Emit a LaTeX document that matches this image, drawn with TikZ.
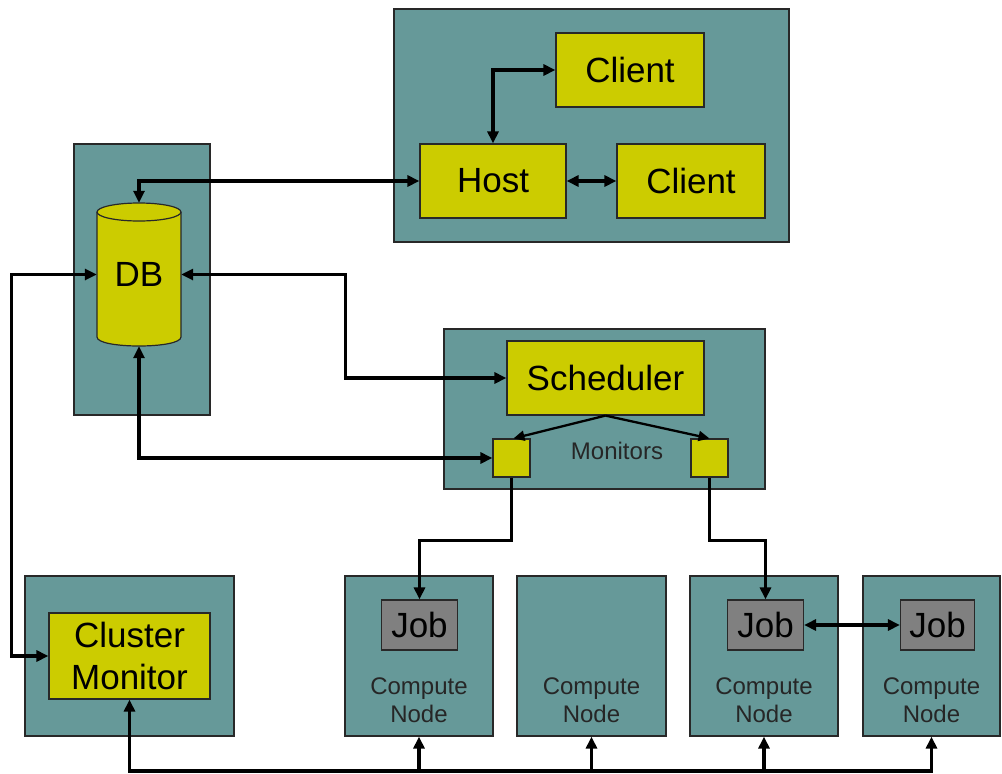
\documentclass[tikz,border=0pt]{standalone}
\usepackage{fontspec}
\setmainfont{Liberation Sans}
\usetikzlibrary{arrows.meta,calc}
\definecolor{panelc}{RGB}{102,153,153}
\definecolor{yelc}{RGB}{204,204,0}
\definecolor{jobc}{RGB}{128,128,128}
\definecolor{edgec}{RGB}{40,40,40}
\begin{document}
\begin{tikzpicture}[x=1pt,y=-1pt,
  panel/.style={draw=edgec,line width=1.2pt,fill=panelc,inner sep=0pt},
  ybox/.style={draw=edgec,line width=1.2pt,fill=yelc,inner sep=0pt,font=\fontsize{35}{42}\selectfont,align=center},
  jobbox/.style={draw=edgec,line width=1.2pt,fill=jobc,inner sep=0pt,minimum width=76pt,minimum height=50pt,font=\fontsize{35}{42}\selectfont},
  mon/.style={draw=edgec,line width=1.2pt,fill=yelc,inner sep=0pt,minimum width=37pt,minimum height=38pt},
  small/.style={font=\fontsize{24}{28.5}\selectfont,align=center,text=black!85},
  conn/.style={line width=3.3pt,black,>={Triangle[length=12pt,width=11pt]}},
  thinconn/.style={line width=2.3pt,black,>={Triangle[length=11pt,width=10pt]}}
]
\useasboundingbox (0,0) rectangle (1002,774);
% panels
\node[panel,minimum width=395pt,minimum height=233pt] (hostp) at (591.5,125.5) {};
\node[panel,minimum width=136pt,minimum height=271pt] (dbp) at (142,279.5) {};
\node[panel,minimum width=321pt,minimum height=160pt] (schedp) at (604.5,409) {};
\node[panel,minimum width=209pt,minimum height=160pt] (cmp) at (129.5,656) {};
\node[panel,minimum width=148pt,minimum height=160pt] (cn1) at (419,656) {};
\node[panel,minimum width=149pt,minimum height=160pt] (cn2) at (591.5,656) {};
\node[panel,minimum width=148pt,minimum height=160pt] (cn3) at (764,656) {};
\node[panel,minimum width=137pt,minimum height=160pt] (cn4) at (931.5,656) {};
% host area
\node[ybox,minimum width=148pt,minimum height=74pt] (c1) at (630,70) {Client};
\node[ybox,minimum width=146pt,minimum height=74pt] (host) at (493,181) {Host};
\node[ybox,minimum width=148pt,minimum height=74pt] (c2) at (691,181) {Client};
% DB cylinder
\fill[yelc] (97,212) rectangle (181,337);
\fill[yelc] (139,337) ellipse [x radius=42pt,y radius=9pt];
\draw[edgec,line width=1.2pt,fill=yelc] (139,212) ellipse [x radius=42pt,y radius=9pt];
\draw[edgec,line width=1.2pt] (97,212) -- (97,337) .. controls (97,349) and (181,349) .. (181,337) -- (181,212);
\node[font=\fontsize{35}{42}\selectfont,minimum width=84pt,minimum height=143pt,inner sep=0pt] (db) at (139,274.5) {DB};
% scheduler
\node[ybox,minimum width=197pt,minimum height=74pt] (sched) at (605.5,378) {Scheduler};
\node[mon] (m1) at (511.5,458) {};
\node[mon] (m2) at (709.5,458) {};
\node[small] (montext) at (617,451) {Monitors};
% cluster monitor
\node[ybox,minimum width=161pt,minimum height=86pt] (cm) at (129.5,656) {Cluster\\Monitor};
% jobs
\node[jobbox] (job1) at (419.5,625) {Job};
\node[jobbox] (job3) at (765.5,625) {Job};
\node[jobbox,minimum width=74pt] (job4) at (937.5,625) {Job};
% compute node labels
\node[small] (l1) at (419,700) {Compute\\Node};
\node[small] (l2) at (591.5,700) {Compute\\Node};
\node[small] (l3) at (764,700) {Compute\\Node};
\node[small] (l4) at (931.5,700) {Compute\\Node};
% connectors
\draw[conn,<->] (host.north) |- (c1.west);
\draw[conn,<->] (host.east) -- (c2.west);
\draw[conn,<->] (db.north) |- (host.west);
\draw[conn,<->] (db.east) -- ++(164,0) |- (sched.west);
\draw[conn,<->] (db.south) |- (m1.west);
\draw[conn,<->] (cm.west) -- ++(-37,0) |- (db.west);
\draw[thinconn,->] (sched.south) -- ($(m1.north)+(2,0)$);
\draw[thinconn,->] (sched.south) -- (m2.north);
\draw[conn,->] (m1.south) -- ++(0,63) -| (job1.north);
\draw[conn,->] (m2.south) -- ++(0,63) -| (job3.north);
\draw[conn,<->] (job3.east) -- (job4.west);
\coordinate (bus) at (0,771);
\draw[conn,<->] (cm.south) -- (cm.south |- bus) -| (cn4.south);
\draw[conn,->] (bus -| cn1.south) -- (cn1.south);
\draw[conn,->] (bus -| cn2.south) -- (cn2.south);
\draw[conn,->] (bus -| cn3.south) -- (cn3.south);
\end{tikzpicture}
\end{document}
